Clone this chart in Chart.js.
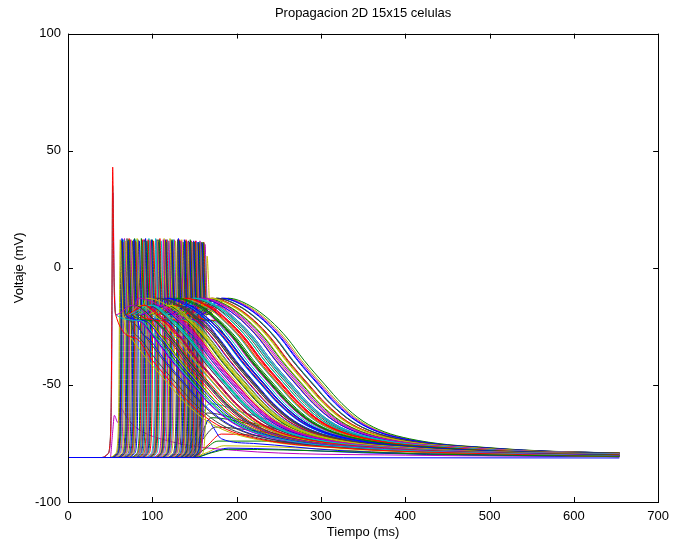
<!DOCTYPE html>
<html>
<head>
<meta charset="utf-8">
<script src="https://cdn.jsdelivr.net/npm/chart.js@4.4.0/dist/chart.umd.min.js"></script>
<style>
html, body { margin: 0; padding: 0; background: #fff; }
#wrap { width: 676px; height: 546px; }
</style>
</head>
<body>
<div id="wrap"><canvas id="apChart" width="676" height="546"></canvas></div>
<script>
// resting potential and end of the simulation (mV, ms)
const restLevel = -81;
const endTime = 654;
const plateauLevel = -20;

// cells that fired: activation time (ms), spike peak (mV), time the repolarisation crosses -50 mV, level at the end
const spikeTimes = [52, 52, 52.3,
  61, 62, 63, 63.5, 64, 65, 66, 67.5,
  69, 70, 71, 71.5, 72, 73, 74, 75.5,
  77, 78, 79, 79.5, 80, 81, 82, 83.5,
  86, 87, 88, 88.5, 89, 90, 91, 92.5,
  94, 95, 96, 96.5, 97, 98, 99, 100.5,
  103, 104, 105, 105.5, 106, 107, 108, 109.5,
  112, 113, 114, 114.5, 115, 116, 117, 118.5,
  120, 121, 122, 122.5, 123, 124, 125, 126.5,
  129, 130, 131, 131.5, 132, 133, 134, 135.5,
  137, 138, 139, 139.5, 140, 141, 142, 143,
  144, 144.5, 145, 145.5, 146, 147, 148, 149,
  150, 150.5, 151, 151.5, 152, 153, 154, 154.5,
  155, 155.5, 156, 157, 158, 159, 160, 160.5,
  161.5, 164];
const spikePeaks = [43, 35, 32,
  12, 11.5, 12.5, 12, 11, 12, 12.5, 11.5,
  12.5, 11.5, 12, 12.5, 11, 12, 12, 11.5,
  12, 12.5, 11.5, 12, 11, 12.5, 12, 11.5,
  12.5, 12, 11.5, 12, 11, 12, 12.5, 11.5,
  12, 12.5, 11.5, 12, 11, 12, 12, 11.5,
  12.5, 12, 11.5, 12, 11, 12, 12.5, 11.5,
  12, 12.5, 11.5, 12, 11, 12, 12, 11.5,
  12.5, 12, 11.5, 12, 11, 12, 12, 11.5,
  12, 12.5, 11.5, 12, 11, 11.5, 12, 11,
  12, 11.5, 12, 11, 11.5, 11, 11.5, 11,
  12, 11.5, 11, 11.5, 11, 11, 11.5, 11,
  11.5, 11, 11.5, 11, 10.5, 11, 11, 10.5,
  11, 11.5, 10.5, 11, 10.5, 11, 11, 10.5,
  10, 5];
const repolTimes = [125, 150, 166,
  120, 138, 155, 168, 180, 188, 147, 175,
  130, 148, 165, 178, 190, 198, 157, 185,
  140, 158, 175, 188, 200, 208, 167, 195,
  152, 170, 187, 200, 212, 220, 179, 207,
  162, 180, 197, 210, 222, 230, 189, 217,
  174, 192, 209, 222, 234, 242, 201, 229,
  185, 203, 220, 233, 245, 253, 212, 240,
  195, 213, 230, 243, 255, 263, 222, 250,
  206, 224, 241, 254, 266, 274, 233, 261,
  216, 234, 251, 264, 276, 284, 243, 271,
  223, 241, 258, 271, 283, 291, 250, 278,
  231, 249, 266, 279, 291, 298, 258, 286,
  237, 255, 272, 285, 297, 305, 264, 292,
  300, 302];
const endLevels = [-80.7, -80.5, -80.3,
  -80.7, -80.5, -80.2, -80, -79.8, -79.6, -80.3, -79.9,
  -80.6, -80.4, -80.2, -79.9, -79.7, -79.5, -80.3, -79.8,
  -80.6, -80.3, -80.1, -79.8, -79.6, -79.4, -80.2, -79.7,
  -80.5, -80.2, -80, -79.7, -79.5, -79.3, -80.1, -79.6,
  -80.4, -80.1, -79.9, -79.6, -79.4, -79.3, -80, -79.5,
  -80.3, -80, -79.8, -79.5, -79.3, -79.2, -79.9, -79.4,
  -80.2, -79.9, -79.7, -79.4, -79.2, -79.1, -79.8, -79.3,
  -80.1, -79.8, -79.6, -79.3, -79.2, -79.1, -79.7, -79.2,
  -80, -79.7, -79.5, -79.3, -79.1, -79, -79.6, -79.2,
  -79.9, -79.6, -79.4, -79.2, -79.1, -79, -79.5, -79.1,
  -79.8, -79.5, -79.3, -79.1, -79, -79, -79.4, -79.1,
  -79.7, -79.4, -79.2, -79.1, -79, -79, -79.3, -79,
  -79.6, -79.3, -79.2, -79.1, -79, -79, -79.2, -79,
  -79, -79.1];

// upstroke foot and fast fall after the peak (ms relative to activation, mV)
const footOffsets = [-12, -5, -2, -0.7, 0];
const footLevels = [-81, -79.5, -74, -55, -20];
const peakOffset = 1;
const fallOffsets = [2.5, 4.5];
const fallLevels = [-4, plateauLevel];

// repolarisation shape, ms relative to the -50 mV crossing
const decayOffsets = [-115, -90, -65, -45, -25, 0, 20, 45, 70, 100, 145, 182, 235, 300];
const decayLevels = [-13, -16, -22.5, -30, -39.5, -50, -58, -65.5, -70, -73, -75.5, -76.5, -77.8, -78.7];

// cells that stayed below threshold
const quietTimes = [[0, 654]];
const quietLevels = [[-81, -81.2]];
const earlyQuietTimes = [[0, 150, 170, 190, 260, 420, 654]];
const earlyQuietLevels = [[-81, -81, -79, -77.5, -77.8, -79.5, -80.5]];
const subTimes = [
  [0, 140, 158, 175, 230, 330, 480, 654],
  [0, 148, 158, 166, 172, 182, 220, 320, 500, 654],
  [0, 143, 160, 178, 230, 330, 480, 654],
  [0, 148, 165, 182, 240, 340, 480, 654],
  [0, 136, 152, 168, 210, 300, 400, 654],
  [0, 50, 53, 55, 59, 63, 68, 80, 120, 200, 400, 654],
  [0, 145, 164, 185, 250, 360, 500, 654],
  [0, 133, 150, 165, 215, 310, 420, 654],
  [0, 150, 168, 190, 250, 350, 500, 654],
  [0, 138, 155, 170, 220, 320, 450, 654]
];
const subLevels = [
  [-81, -81, -74, -68, -70, -75, -79, -79.8],
  [-81, -81, -75, -65, -68, -73, -75, -78, -80, -80.6],
  [-81, -81, -78, -74, -74, -77, -79.5, -80.2],
  [-81, -81, -76, -71, -72, -76, -79.5, -80],
  [-81, -81, -70, -58, -62, -71, -77, -79.5],
  [-81, -81, -70, -63, -66, -60, -63, -68, -74, -78, -80, -80.5],
  [-81, -81, -79, -76, -76.5, -78.5, -80, -80.5],
  [-81, -81, -72, -62, -66, -73, -78, -79.8],
  [-81, -81, -79, -77, -77.5, -79, -80.2, -80.6],
  [-81, -81, -73, -64, -67, -74, -78.5, -80]
];

const xTicks = [0, 100, 200, 300, 400, 500, 600, 700];
const yTicks = [-100, -50, 0, 50, 100];

// octave/matlab default line colours
const colorOrder = ['#0000ff', '#008000', '#ff0000', '#00bfbf', '#bf00bf', '#bfbf00', '#404040'];

function pointsFrom(times, levels) {
  return times.map((t, k) => ({x: t, y: levels[k]}));
}

function spikeTrace(i) {
  const ta = spikeTimes[i];
  const pts = [{x: 0, y: restLevel}];
  footOffsets.forEach((o, k) => pts.push({x: ta + o, y: footLevels[k]}));
  pts.push({x: ta + peakOffset, y: spikePeaks[i]});
  fallOffsets.forEach((o, k) => pts.push({x: ta + o, y: fallLevels[k]}));
  decayOffsets.forEach((o, k) => {
    const t = repolTimes[i] + o;
    if (t > ta + 8 && t < endTime) pts.push({x: t, y: decayLevels[k]});
  });
  pts.push({x: endTime, y: endLevels[i]});
  return pts;
}

let traces = [];
traces.push(pointsFrom(quietTimes[0], quietLevels[0]));
traces.push(pointsFrom(earlyQuietTimes[0], earlyQuietLevels[0]));
for (let i = 0; i < spikeTimes.length; i++) traces.push(spikeTrace(i));
for (let i = 0; i < subTimes.length; i++) traces.push(pointsFrom(subTimes[i], subLevels[i]));

const datasets = traces.map((pts, i) => ({
  data: pts,
  borderColor: colorOrder[i % colorOrder.length],
  borderWidth: 1,
  pointRadius: 0,
  fill: false,
  cubicInterpolationMode: 'monotone'
}));

const fontFamily = '"Liberation Sans", Arial, Helvetica, sans-serif';

// box round the plot with inward ticks on all four sides
const framePlugin = {
  id: 'frame',
  afterDatasetsDraw(chart) {
    const {ctx, chartArea: a, scales: {x, y}} = chart;
    const tick = 5;
    ctx.save();
    ctx.strokeStyle = '#000';
    ctx.lineWidth = 1;
    ctx.strokeRect(Math.round(a.left) + 0.5, Math.round(a.top) + 0.5,
      Math.round(a.right) - Math.round(a.left), Math.round(a.bottom) - Math.round(a.top));
    ctx.beginPath();
    xTicks.forEach(v => {
      const px = Math.round(x.getPixelForValue(v)) + 0.5;
      ctx.moveTo(px, a.bottom); ctx.lineTo(px, a.bottom - tick);
      ctx.moveTo(px, a.top); ctx.lineTo(px, a.top + tick);
    });
    yTicks.forEach(v => {
      const py = Math.round(y.getPixelForValue(v)) + 0.5;
      ctx.moveTo(a.left, py); ctx.lineTo(a.left + tick, py);
      ctx.moveTo(a.right, py); ctx.lineTo(a.right - tick, py);
    });
    ctx.stroke();
    ctx.restore();
  }
};

const ctx = document.getElementById('apChart').getContext('2d');
const apChart = new Chart(ctx, {
  type: 'line',
  data: { datasets: datasets },
  options: {
    responsive: false,
    animation: false,
    events: [],
    layout: { padding: { left: 0, right: 15, top: 0, bottom: 0 } },
    plugins: {
      legend: { display: false },
      tooltip: { enabled: false },
      title: {
        display: true,
        fullSize: false,
        text: 'Propagacion 2D 15x15 celulas',
        color: '#000',
        font: { family: fontFamily, size: 13, weight: 'normal' },
        padding: { top: 6, bottom: 12 }
      }
    },
    scales: {
      x: {
        type: 'linear',
        min: 0,
        max: 700,
        afterBuildTicks: s => { s.ticks = xTicks.map(v => ({value: v})); },
        afterFit: s => { s.height = 44; },
        grid: { display: false, drawTicks: false },
        border: { display: false },
        ticks: { color: '#000', padding: 7, maxRotation: 0, font: { family: fontFamily, size: 13 } },
        title: { display: true, text: 'Tiempo (ms)', color: '#000', padding: { top: 0, bottom: 6 },
          font: { family: fontFamily, size: 13 } }
      },
      y: {
        type: 'linear',
        min: -100,
        max: 100,
        afterBuildTicks: s => { s.ticks = yTicks.map(v => ({value: v})); },
        afterFit: s => { s.width = 68; },
        grid: { display: false, drawTicks: false },
        border: { display: false },
        ticks: { color: '#000', padding: 7, font: { family: fontFamily, size: 13 } },
        title: { display: true, text: 'Voltaje (mV)', color: '#000', padding: { top: 12, bottom: 0 },
          font: { family: fontFamily, size: 13 } }
      }
    }
  },
  plugins: [framePlugin]
});
</script>
</body>
</html>
